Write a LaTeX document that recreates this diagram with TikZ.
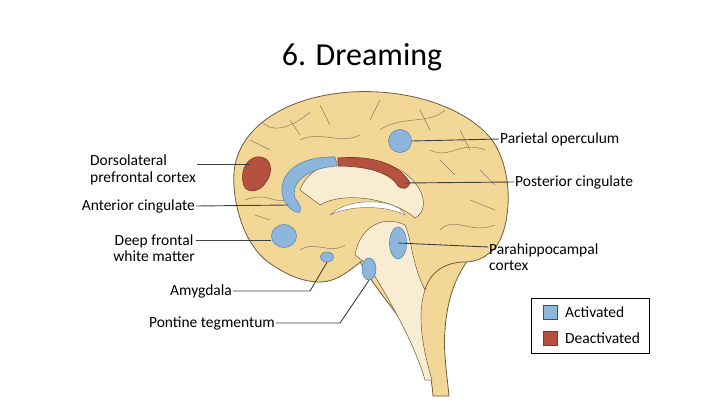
\documentclass[tikz,border=0pt]{standalone}
\usepackage{fontspec}
\setmainfont{Carlito}
\usetikzlibrary{shapes.geometric}
\begin{document}
\begin{tikzpicture}[x=1pt,y=-1pt,
  lbl/.style={font=\fontsize{15.5}{16.5}\selectfont,inner sep=1pt},
  lead/.style={draw=black!75,line width=0.9pt},
  brain/.style={fill=brainfill,draw=brainline,line width=0.8pt},
  act/.style={fill=actblue,draw=actline,line width=0.6pt},
  deact/.style={fill=deactred,draw=deactline,line width=0.6pt},
  fold/.style={draw=brainline!80,line width=0.5pt}]
\definecolor{brainfill}{HTML}{F3D797}
\definecolor{brainline}{HTML}{6E5C3C}
\definecolor{inner}{HTML}{F8EDD3}
\definecolor{actblue}{HTML}{8DB6DD}
\definecolor{actline}{HTML}{5E86AE}
\definecolor{deactred}{HTML}{B5523F}
\definecolor{deactline}{HTML}{7E3426}
\useasboundingbox (0,0) rectangle (720,404);
\fill[white] (0,0) rectangle (720,404);
\node (title) at (362,57) {\fontsize{32}{34}\selectfont 6. Dreaming};
% brainstem
\draw[brain] (358,258) .. controls (375,290) and (400,315) .. (418,345) .. controls (428,362) and (432,380) .. (433,396) -- (449,396) .. controls (447,375) and (443,350) .. (445,330) .. controls (447,300) and (455,278) .. (468,260) -- cycle;
% cerebrum
\draw[brain] (268,262) .. controls (245,245) and (232,205) .. (234,172) .. controls (238,130) and (280,100) .. (340,93) .. controls (400,86) and (465,105) .. (492,140) .. controls (512,168) and (512,215) .. (500,240) .. controls (492,255) and (478,262) .. (465,262) .. controls (445,262) and (430,272) .. (425,290) .. controls (415,270) and (390,255) .. (370,255) .. controls (355,265) and (340,282) .. (320,282) .. controls (300,282) and (282,272) .. (268,262) -- cycle;
% inner lighter regions
\fill[inner,draw=brainline,line width=0.5pt] (300,190) .. controls (310,160) and (360,150) .. (400,170) .. controls (425,185) and (430,210) .. (415,218) .. controls (395,200) and (345,190) .. (320,205) -- cycle;
\fill[inner,draw=brainline,line width=0.5pt] (355,255) .. controls (360,225) and (385,215) .. (405,225) .. controls (412,240) and (412,265) .. (425,290) .. controls (418,310) and (420,340) .. (432,380) -- (425,380) .. controls (415,345) and (390,300) .. (368,265) -- cycle;
\draw[fold,fill=white] (330,215) .. controls (350,195) and (400,200) .. (405,215) .. controls (385,205) and (350,205) .. (330,215);
% folds
\foreach \a/\b/\c/\d in {250/140/270/150,290/120/300/135,320/105/330/125,380/100/370/120,420/110/430/130,460/130/470/150,480/170/495/185,470/200/495/210,255/215/270/220,440/160/455/175}
  \draw[fold] (\a,\b) -- (\c,\d);
\draw[fold] (245,200) .. controls (270,190) and (280,210) .. (290,195);
\draw[fold] (300,140) .. controls (320,130) and (340,145) .. (360,135);
\draw[fold] (380,130) .. controls (400,115) and (430,125) .. (445,110);
\draw[fold] (430,150) .. controls (450,160) and (460,140) .. (485,150);
\draw[fold] (440,230) .. controls (455,215) and (470,235) .. (495,225);
\draw[fold] (300,250) .. controls (315,240) and (330,255) .. (345,245);
\draw[fold] (262,122) .. controls (275,135) and (295,125) .. (310,112);
% regions
\node[act,circle,minimum size=23pt,inner sep=0] (po) at (400,141) {};
\draw[deact] (256,157) .. controls (272,155) and (274,172) .. (266,182) .. controls (260,192) and (248,194) .. (244,186) .. controls (240,175) and (244,160) .. (256,157) -- cycle;
\coordinate (dl) at (250,168);
\draw[act] (335,157) .. controls (300,156) and (280,172) .. (282,193) .. controls (284,207) and (296,214) .. (300,212) .. controls (302,206) and (298,203) .. (295,198) .. controls (290,185) and (305,168) .. (337,166) -- cycle;
\coordinate (ac) at (288,205);
\draw[deact] (338,158) .. controls (375,155) and (400,165) .. (410,183) .. controls (408,189) and (402,190) .. (398,186) .. controls (390,172) and (365,166) .. (338,166) -- cycle;
\coordinate (pc) at (404,183);
\node[act,ellipse,minimum width=25pt,minimum height=23pt,inner sep=0] (df) at (284,236) {};
\node[act,ellipse,minimum width=13pt,minimum height=10pt,inner sep=0] (am) at (327,257) {};
\node[act,ellipse,minimum width=14pt,minimum height=22pt,inner sep=0] (pt) at (369,269) {};
\node[act,ellipse,minimum width=17pt,minimum height=32pt,inner sep=0] (ph) at (398,243) {};
% labels
\node[lbl,align=left,anchor=east] (tdl) at (197,170) {Dorsolateral\\prefrontal cortex};
\node[lbl,anchor=east] (tac) at (196,206) {Anterior cingulate};
\node[lbl,align=center,anchor=east] (tdf) at (196,248) {Deep frontal\\white matter};
\node[lbl,anchor=east] (tam) at (233,291) {Amygdala};
\node[lbl,anchor=east] (tpt) at (276,323) {Pontine tegmentum};
\node[lbl,anchor=west] (tpo) at (499,139) {Parietal operculum};
\node[lbl,anchor=west] (tpc) at (514,182) {Posterior cingulate};
\node[lbl,align=left,anchor=west] (tph) at (488,257) {Parahippocampal\\cortex};
\draw[lead] (tdl.east |- 0,164) -- (dl |- 0,164);
\draw[lead] (tac.east) -- (ac);
\draw[lead] (tdf.east |- 0,240) -- (df.west |- 0,240);
\draw[lead] (tam.east) -- (310,291) -- (am.south);
\draw[lead] (tpt.east) -- (340,323) -- (pt.south);
\draw[lead] (po.east) -- (tpo.west);
\draw[lead] (pc) -- (tpc.west);
\draw[lead] (ph.center) -- (tph.west |- 0,247);
% legend
\node[draw=black,line width=0.8pt,minimum width=118pt,minimum height=55pt,anchor=north west] (leg) at (531,298) {};
\node[act,draw=black!70,minimum size=14pt,inner sep=0] (ka) at (550,312) {};
\node[deact,draw=black!70,minimum size=14pt,inner sep=0] (kd) at (550,338) {};
\node[lbl,anchor=west] (ta) at (564,312) {Activated};
\node[lbl,anchor=west] (td) at (564,338) {Deactivated};
\end{tikzpicture}
\end{document}
